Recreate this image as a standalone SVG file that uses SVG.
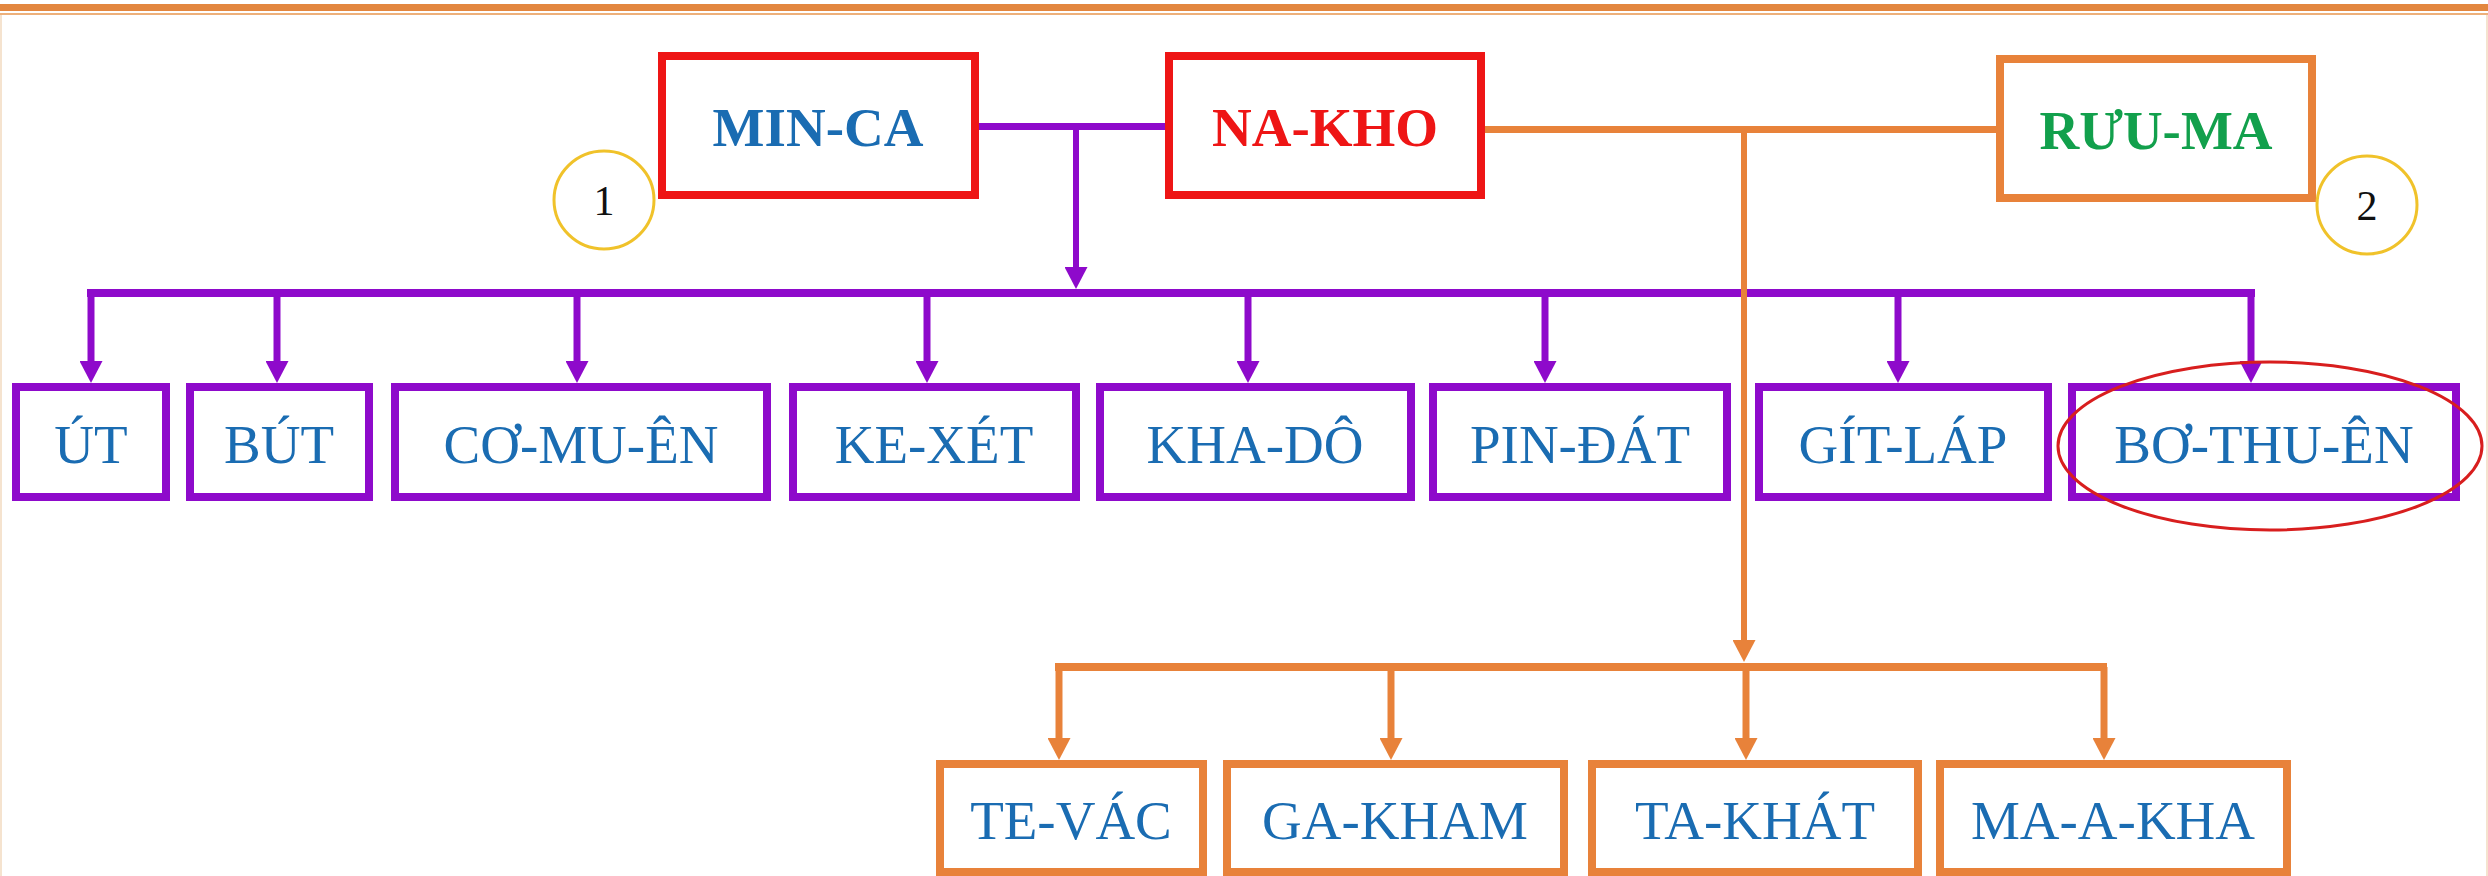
<svg xmlns="http://www.w3.org/2000/svg" width="2488" height="876" viewBox="0 0 2488 876">
  <style>
    .box { fill: #ffffff; stroke-width: 8; }
    .red { stroke: #EE1515; }
    .pur { stroke: #8E0ACB; }
    .org { stroke: #E8823A; }
    .lbl { font-family: "Liberation Serif", "Times New Roman", serif; font-size: 55px; fill: #1A6CB2; text-anchor: middle; }
    .bold { font-weight: bold; }
    .num { font-family: "Liberation Serif", "Times New Roman", serif; font-size: 42px; fill: #111111; text-anchor: middle; }
    .badge { fill: #ffffff; stroke: #F0C22A; stroke-width: 3; }
    .lp { stroke: #8E0ACB; fill: none; }
    .lo { stroke: #E8823A; fill: none; }
  </style>
  <defs>
    <marker id="ap" viewBox="0 0 22 23" markerWidth="22" markerHeight="23" refX="8" refY="11.5" orient="auto" markerUnits="userSpaceOnUse">
      <path d="M0,0 L22,11.5 L0,23 Z" fill="#8E0ACB"/>
    </marker>
    <marker id="ao" viewBox="0 0 22 23" markerWidth="22" markerHeight="23" refX="8" refY="11.5" orient="auto" markerUnits="userSpaceOnUse">
      <path d="M0,0 L22,11.5 L0,23 Z" fill="#E8823A"/>
    </marker>
  </defs>

  <rect x="0" y="0" width="2488" height="876" fill="#ffffff"/>
  <g id="frame">
    <rect x="0" y="4" width="2488" height="7" fill="#E3873F"/>
    <line x1="0" y1="14" x2="2488" y2="14" stroke="#EDB07A" stroke-width="2"/>
    <line x1="1" y1="15" x2="1" y2="876" stroke="#F5E3CF" stroke-width="2"/>
    <line x1="2487" y1="15" x2="2487" y2="876" stroke="#F5E3CF" stroke-width="2"/>
  </g>

  <g id="connectors">
    <!-- purple family -->
    <line class="lp" x1="979" y1="126.5" x2="1165" y2="126.5" stroke-width="7"/>
    <line class="lp" x1="1076" y1="126.5" x2="1076" y2="275" stroke-width="6" marker-end="url(#ap)"/>
    <line class="lp" x1="87" y1="293" x2="2255" y2="293" stroke-width="8"/>
    <line class="lp" x1="91" y1="293" x2="91" y2="369" stroke-width="7" marker-end="url(#ap)"/>
    <line class="lp" x1="277" y1="293" x2="277" y2="369" stroke-width="7" marker-end="url(#ap)"/>
    <line class="lp" x1="577" y1="293" x2="577" y2="369" stroke-width="7" marker-end="url(#ap)"/>
    <line class="lp" x1="927" y1="293" x2="927" y2="369" stroke-width="7" marker-end="url(#ap)"/>
    <line class="lp" x1="1248" y1="293" x2="1248" y2="369" stroke-width="7" marker-end="url(#ap)"/>
    <line class="lp" x1="1545" y1="293" x2="1545" y2="369" stroke-width="7" marker-end="url(#ap)"/>
    <line class="lp" x1="1898" y1="293" x2="1898" y2="369" stroke-width="7" marker-end="url(#ap)"/>
    <line class="lp" x1="2251" y1="293" x2="2251" y2="369" stroke-width="7" marker-end="url(#ap)"/>
    <!-- orange family -->
    <line class="lo" x1="1485" y1="129.5" x2="1996" y2="129.5" stroke-width="7"/>
    <line class="lo" x1="1744" y1="129.5" x2="1744" y2="648" stroke-width="6" marker-end="url(#ao)"/>
    <line class="lo" x1="1055" y1="667" x2="2107" y2="667" stroke-width="8"/>
    <line class="lo" x1="1059" y1="667" x2="1059" y2="746" stroke-width="7" marker-end="url(#ao)"/>
    <line class="lo" x1="1391" y1="667" x2="1391" y2="746" stroke-width="7" marker-end="url(#ao)"/>
    <line class="lo" x1="1746" y1="667" x2="1746" y2="746" stroke-width="7" marker-end="url(#ao)"/>
    <line class="lo" x1="2104" y1="667" x2="2104" y2="746" stroke-width="7" marker-end="url(#ao)"/>
  </g>

  <g id="minca">
    <rect class="box red" x="662" y="56" width="313" height="139"/>
    <text class="lbl bold" x="818" y="146">MIN-CA</text>
  </g>
  <g id="nakho">
    <rect class="box red" x="1169" y="56" width="312" height="139"/>
    <text class="lbl bold" x="1325" y="146" style="fill:#EE1515">NA-KHO</text>
  </g>
  <g id="ruuma">
    <rect class="box org" x="2000" y="59" width="312" height="139"/>
    <text class="lbl bold" x="2156" y="149" style="fill:#12A04C">RƯU-MA</text>
  </g>
  <g id="badge1">
    <ellipse class="badge" cx="604" cy="200" rx="50" ry="49"/>
    <text class="num" x="604" y="215">1</text>
  </g>
  <g id="badge2">
    <ellipse class="badge" cx="2367" cy="205" rx="50" ry="49"/>
    <text class="num" x="2367" y="220">2</text>
  </g>

  <g id="ut">
    <rect class="box pur" x="16" y="387" width="150" height="110"/>
    <text class="lbl" x="91" y="463">ÚT</text>
  </g>
  <g id="but">
    <rect class="box pur" x="190" y="387" width="179" height="110"/>
    <text class="lbl" x="279" y="463">BÚT</text>
  </g>
  <g id="comuen">
    <rect class="box pur" x="395" y="387" width="372" height="110"/>
    <text class="lbl" x="581" y="463">CƠ-MU-ÊN</text>
  </g>
  <g id="kexet">
    <rect class="box pur" x="793" y="387" width="283" height="110"/>
    <text class="lbl" x="934" y="463">KE-XÉT</text>
  </g>
  <g id="khado">
    <rect class="box pur" x="1100" y="387" width="311" height="110"/>
    <text class="lbl" x="1255" y="463">KHA-DÔ</text>
  </g>
  <g id="pindat">
    <rect class="box pur" x="1433" y="387" width="294" height="110"/>
    <text class="lbl" x="1580" y="463">PIN-ĐÁT</text>
  </g>
  <g id="gitlap">
    <rect class="box pur" x="1759" y="387" width="289" height="110"/>
    <text class="lbl" x="1903" y="463">GÍT-LÁP</text>
  </g>
  <g id="bothuen">
    <rect class="box pur" x="2072" y="387" width="384" height="110"/>
    <text class="lbl" x="2264" y="463">BƠ-THU-ÊN</text>
    <ellipse cx="2270" cy="446" rx="212" ry="84" fill="none" stroke="#D81E1E" stroke-width="3"/>
  </g>

  <g id="tevac">
    <rect class="box org" x="940" y="764" width="263" height="108"/>
    <text class="lbl" x="1071" y="839">TE-VÁC</text>
  </g>
  <g id="gakham">
    <rect class="box org" x="1227" y="764" width="337" height="108"/>
    <text class="lbl" x="1395" y="839">GA-KHAM</text>
  </g>
  <g id="takhat">
    <rect class="box org" x="1592" y="764" width="326" height="108"/>
    <text class="lbl" x="1755" y="839">TA-KHÁT</text>
  </g>
  <g id="maakha">
    <rect class="box org" x="1940" y="764" width="347" height="108"/>
    <text class="lbl" x="2113" y="839">MA-A-KHA</text>
  </g>
</svg>
